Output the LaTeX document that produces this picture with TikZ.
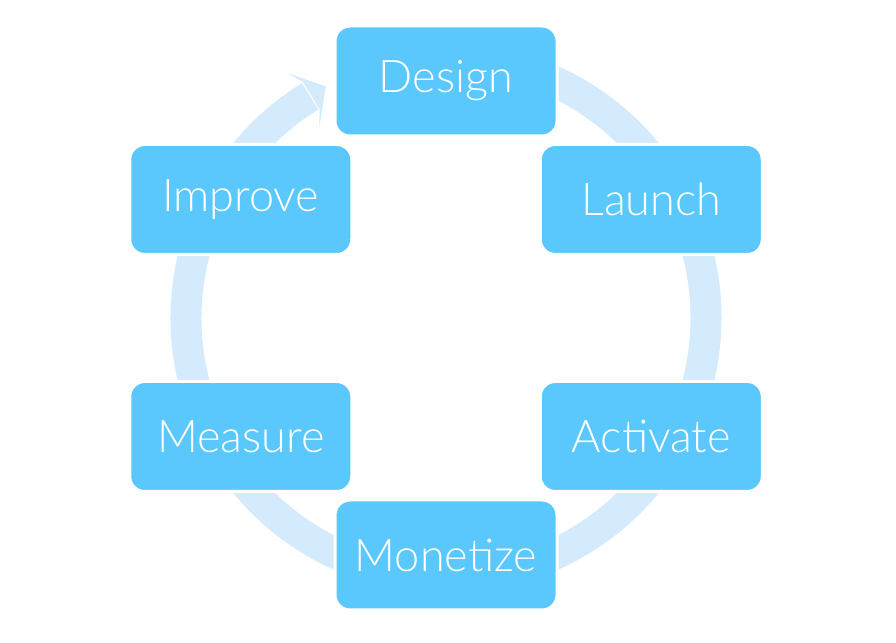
\documentclass[tikz,border=0pt]{standalone}
\usepackage{fontspec}
\setmainfont{Lato Light}
\definecolor{boxblue}{HTML}{5AC8FC}
\definecolor{ringblue}{HTML}{D3EBFC}
\begin{document}
\begin{tikzpicture}[x=1pt,y=1pt,
  stagebox/.style={fill=boxblue,draw=white,line width=3pt,rounded corners=15pt,
    minimum width=222pt,minimum height=110pt,text=white,
    font=\fontsize{45}{52}\selectfont,inner sep=0pt}]
\useasboundingbox (0,0) rectangle (896,642);
\coordinate (c) at (446,324);
% ring
\draw[ringblue,line width=31pt] ([shift={(85:260)}]c) arc[start angle=85,end angle=-238.5,radius=260];
\fill[ringblue] ([shift={(117.4:261)}]c) -- ([shift={(123:292)}]c) -- ([shift={(121.2:276)}]c)
  -- ([shift={(121.2:244)}]c) -- ([shift={(123.6:229)}]c) -- cycle;
% boxes
\node[stagebox] (design) at ([shift={(90:237)}]c) {Design};
\node[stagebox] (launch) at ([shift={(30:237)}]c) {Launch};
\node[stagebox] (activate) at ([shift={(-30:237)}]c) {Activate};
\node[stagebox] (monetize) at ([shift={(-90:237)}]c) {Monetize};
\node[stagebox] (measure) at ([shift={(210:237)}]c) {Measure};
\node[stagebox] (improve) at ([shift={(150:237)}]c) {Improve};
\end{tikzpicture}
\end{document}
